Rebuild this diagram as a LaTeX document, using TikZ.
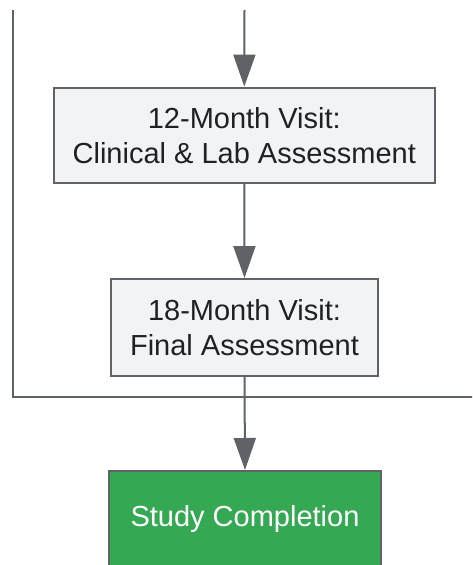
\documentclass[tikz,border=0pt]{standalone}
\usepackage{fontspec}
\setmainfont{Liberation Sans}
\usetikzlibrary{arrows.meta}
\definecolor{linegray}{HTML}{5F6368}
\definecolor{boxfill}{HTML}{F1F3F4}
\definecolor{txt}{HTML}{202124}
\definecolor{okgreen}{HTML}{34A853}
\tikzset{
  flowbox/.style={draw=linegray, line width=2pt, fill=boxfill, text=txt, align=center,
    inner sep=0pt, font=\fontsize{29}{35}\selectfont},
  endbox/.style={draw=linegray, line width=2pt, fill=okgreen, text=white, align=center,
    inner sep=0pt, font=\fontsize{29}{35}\selectfont},
  conn/.style={draw=linegray, line width=2pt},
  arr/.style={conn, -{Triangle[length=32pt,width=22pt]}}
}
\begin{document}
\begin{tikzpicture}[x=1pt,y=-1pt]
\useasboundingbox (0,0) rectangle (472,565);
\clip (0,0) rectangle (472,565);
\node[flowbox, minimum width=381.5pt, minimum height=95.5pt] (v12) at (244.3,135.3)
  {12-Month Visit:\\Clinical \& Lab Assessment};
\node[flowbox, minimum width=267pt, minimum height=96.5pt] (v18) at (244.5,327.3)
  {18-Month Visit:\\Final Assessment};
\node[endbox, minimum width=272pt, minimum height=96pt] (done) at (245,519)
  {Study Completion};
\coordinate (top) at (244.5,10);
\coordinate (lt) at (12.5,10);
\coordinate (lb) at (12.5,396.7);
\coordinate (rb) at (474,396.7);
\draw[arr] (top) -- (v12.north);
\draw[arr] (v12.south) -- (v18.north);
\draw[conn] (lt) -- (lb) -- (rb);
\draw[arr] (v18.south) -- (done.north);
\end{tikzpicture}
\end{document}
